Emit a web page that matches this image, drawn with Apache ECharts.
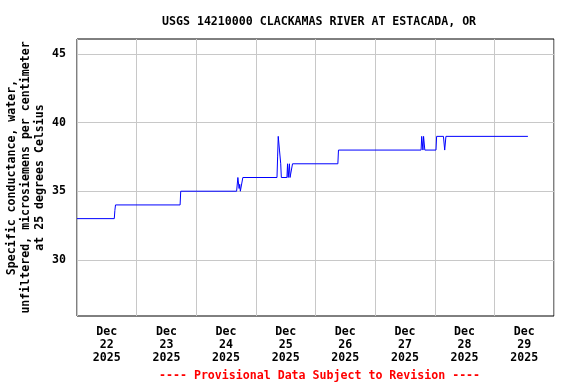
<!DOCTYPE html>
<html>
<head>
<meta charset="utf-8">
<script src="https://cdn.jsdelivr.net/npm/echarts@6/dist/echarts.min.js"></script>
<style>html,body{margin:0;padding:0;background:#fff}#c{width:576px;height:384px}</style>
</head>
<body>
<div id="c"></div>
<script>
// Hours since Dec 21 2025 12:00
const hours = [0, 15.0, 15.25, 15.5, 41.5, 41.75,
  64.25, 64.75, 65.25, 65.5, 65.75, 66.25, 66.75,
  80.5, 80.75, 81.0, 81.25, 81.5, 81.75, 82.0, 82.25,
  84.5, 84.75, 85.0, 85.25, 85.5, 85.75, 86.5, 86.75,
  105.0, 105.25,
  138.5, 138.75, 139.25, 139.5, 140.0,
  144.5, 144.75,
  147.5, 148.0, 148.5,
  181.5];
const values = [33, 33, 33.6, 34, 34, 35,
  35, 36, 35.2, 35.5, 35, 35, 36,
  36, 37.5, 39, 39, 38, 38, 37, 36,
  36, 37, 36, 36, 37, 36, 36, 37,
  37, 38,
  38, 39, 38, 39, 38,
  38, 39,
  39, 38, 39,
  39];
const dayLabels = ['22', '23', '24', '25', '26', '27', '28', '29'];
const monthLabel = 'Dec';
const yearLabel = '2025';
const yTicks = [30, 35, 40, 45];
const titleText = 'USGS 14210000 CLACKAMAS RIVER AT ESTACADA, OR';
const yName = 'Specific conductance, water,\nunfiltered, microsiemens per centimeter\nat 25 degrees Celsius';
const footText = '---- Provisional Data Subject to Revision ----';

const labelHours = dayLabels.map((d, i) => 12 + 24 * i);
const seriesData = hours.map((h, i) => [h, values[i]]);
const FONT = 'DejaVu Sans Mono';
const FS = 11.6;

const chart = echarts.init(document.getElementById('c'), null, {renderer: 'canvas'});
chart.setOption({
  backgroundColor: '#fff',
  animation: false,
  title: [
    {text: titleText, left: 157, top: 11,
     textStyle: {fontFamily: FONT, fontSize: FS, fontWeight: 'bold', color: '#000'}},
    {text: footText, left: 154, top: 365,
     textStyle: {fontFamily: FONT, fontSize: FS, fontWeight: 'bold', color: '#ff0000'}}
  ],
  grid: {left: 77, right: 22, top: 39, bottom: 68, show: true, containLabel: false,
         outerBoundsMode: 'none',
         borderColor: '#000', borderWidth: 1, backgroundColor: 'transparent'},
  xAxis: {
    type: 'value', min: 0, max: 192, interval: 24,
    axisLine: {show: false}, axisTick: {show: false},
    splitLine: {show: true, lineStyle: {color: '#c8c8c8', width: 1}},
    axisLabel: {
      customValues: labelHours, margin: 9,
      fontFamily: FONT, fontSize: FS, fontWeight: 'bold', color: '#000', lineHeight: 13,
      formatter: v => {
        const idx = labelHours.indexOf(v);
        return idx >= 0 ? monthLabel + '\n' + dayLabels[idx] + '\n' + yearLabel : '';
      }
    }
  },
  yAxis: {
    type: 'value', min: 25.9, max: 46.1,
    axisLine: {show: false},
    axisTick: {show: false, customValues: yTicks},
    splitLine: {show: true, lineStyle: {color: '#c8c8c8', width: 1}},
    axisLabel: {customValues: yTicks, margin: 11,
      fontFamily: FONT, fontSize: FS, fontWeight: 'bold', color: '#000'},
    name: yName, nameLocation: 'middle', nameRotate: 90, nameGap: 30, nameMoveOverlap: false,
    nameTextStyle: {fontFamily: FONT, fontSize: FS, fontWeight: 'bold', color: '#000', lineHeight: 14, align: 'center'}
  },
  series: [{
    type: 'line', data: seriesData, showSymbol: false, symbol: 'none',
    lineStyle: {color: '#0000ff', width: 1}, silent: true
  }]
});
</script>
</body>
</html>
